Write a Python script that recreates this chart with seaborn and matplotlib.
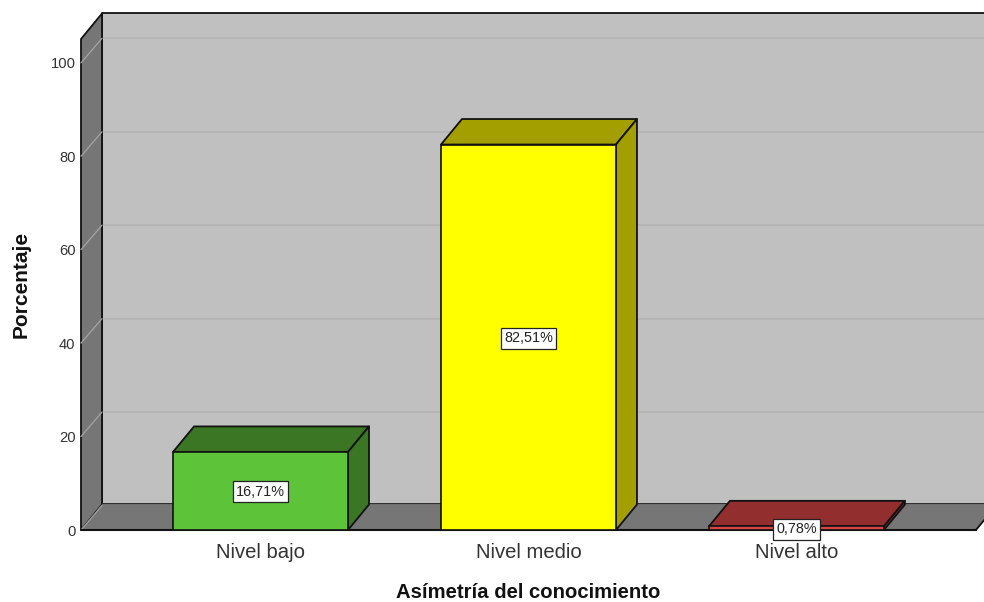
import matplotlib
matplotlib.use('Agg')
import matplotlib.pyplot as plt
from matplotlib.patches import Polygon
import pandas as pd
import seaborn as sns

categorias = ['Nivel bajo', 'Nivel medio', 'Nivel alto']
porcentajes = [16.71, 82.51, 0.78]
etiquetas = ['16,71%', '82,51%', '0,78%']
yticks = [0, 20, 40, 60, 80, 100]

colores = ['#5DC43A', '#FFFF00', '#D94545']
colores_osc = ['#3B7624', '#A39F00', '#932E2E']

sns.set_theme(style='white')
plt.rcParams['font.family'] = ['Liberation Sans', 'DejaVu Sans']

df = pd.DataFrame({'nivel': categorias, 'pct': porcentajes})

fig = plt.figure(figsize=(9.84, 6.02), dpi=100)
ax = fig.add_axes([81 / 984, 72 / 602, 903 / 984, 491 / 602])

sns.barplot(data=df, x='nivel', y='pct', hue='nivel', palette=colores, legend=False,
            width=0.653, edgecolor='#111111', linewidth=1.2, saturation=1, ax=ax, zorder=3)

ax.set_xlim(-0.67, 2.70)
ax.set_ylim(0, 105.1)

# fake 3d depth, in data units
dx = 21 / 268
dy = 25.5 / 4.67
dy_grid = 24.5 / 4.67
x0, x1 = -0.67, 2.67
ymax = 105.1


def cara(puntos, color, z, ec='#111111', lw=1.3):
    ax.add_patch(Polygon(puntos, closed=True, facecolor=color, edgecolor=ec, linewidth=lw,
                         zorder=z, clip_on=False, joinstyle='round'))


# back wall, left wall and floor
cara([(x0 + dx, dy), (x1 + dx + 0.1, dy), (x1 + dx + 0.1, ymax + dy), (x0 + dx, ymax + dy)], '#C0C0C0', 0.5)
cara([(x0, 0), (x0 + dx, dy), (x0 + dx, ymax + dy), (x0, ymax)], '#767676', 0.6)
cara([(x0, 0), (x0 + dx, dy), (x1 + dx, dy), (x1, 0)], '#767676', 0.7, ec='none', lw=0)
ax.plot([x0, x1], [0, 0], color='#111111', lw=1.5, zorder=0.8, clip_on=False)
ax.plot([x1, x1 + dx], [0, dy], color='#111111', lw=1.3, zorder=0.8, clip_on=False)
ax.plot([x0 + dx, x1 + dx + 0.1], [dy, dy], color='#6E6E6E', lw=1, zorder=0.75, clip_on=False)

for t in yticks:
    if t > 0:
        ax.plot([x0 + dx, x1 + dx + 0.1], [t + dy_grid, t + dy_grid], color='#B4B4B4', lw=1.2, zorder=0.55, clip_on=False)
    ax.plot([x0, x0 + dx], [t, t + dy_grid], color='#A4A4A4', lw=0.9, zorder=0.72, clip_on=False)

# top and side of each bar
for i, barra in enumerate(ax.patches[:len(categorias)]):
    izq = barra.get_x()
    der = izq + barra.get_width()
    alto = barra.get_height()
    cara([(izq, alto), (der, alto), (der + dx, alto + dy), (izq + dx, alto + dy)], colores_osc[i], 2.5)
    cara([(der, 0), (der + dx, dy), (der + dx, alto + dy), (der, alto)], colores_osc[i], 2.5)
    ax.text(i, alto / 2 - 0.2, etiquetas[i], ha='center', va='center', fontsize=10.4, color='#222222', zorder=5,
            bbox=dict(boxstyle='square,pad=0.24', facecolor='white', edgecolor='#222222', linewidth=0.9))

sns.despine(ax=ax, left=True, bottom=True, top=True, right=True)
ax.set_yticks(yticks)
ax.tick_params(axis='y', length=0, pad=4, labelsize=10.6, labelcolor='#333333')
ax.tick_params(axis='x', length=0, pad=9, labelsize=14.6, labelcolor='#333333')

ax.set_xlabel('Asímetría del conocimiento', fontsize=14.6, fontweight='bold', color='#111111')
ax.set_ylabel('Porcentaje', fontsize=15, fontweight='bold', color='#111111')
ax.xaxis.set_label_coords(447 / 903, -53 / 491, transform=ax.transAxes)
ax.yaxis.set_label_coords(-50 / 903, 0.5, transform=ax.transAxes)

fig.savefig('out.png', dpi=100)
